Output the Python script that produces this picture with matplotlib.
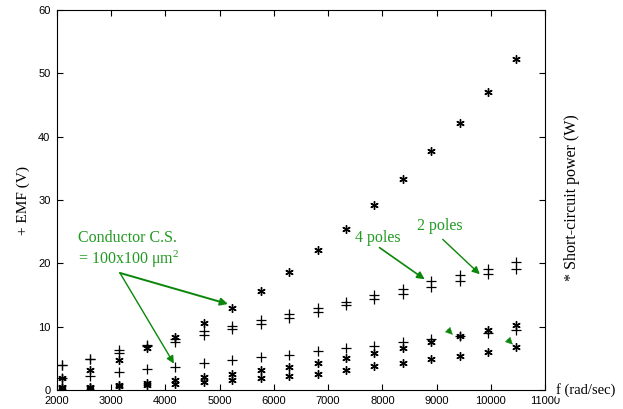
import numpy as np
import matplotlib
matplotlib.use("Agg")
import matplotlib.pyplot as plt

# frequency points (rad/sec), 20000..100000 rpm
f = [2094, 2618, 3142, 3665, 4189, 4712, 5236, 5760, 6283,
     6807, 7330, 7854, 8378, 8901, 9425, 9948, 10472]

# EMF (V), "+" markers
emf_a = [4.0, 5.0, 6.3, 7.2, 8.1, 9.3, 10.1, 11.1, 12.1,
         13.0, 13.9, 15.1, 15.9, 17.2, 18.2, 19.1, 20.2]
emf_b = [3.9, 4.9, 5.8, 6.9, 7.6, 8.7, 9.6, 10.5, 11.4,
         12.3, 13.4, 14.4, 15.2, 16.3, 17.2, 18.4, 19.2]
emf_c = [1.85, 2.3, 2.8, 3.3, 3.7, 4.3, 4.8, 5.2, 5.6,
         6.2, 6.6, 7.0, 7.6, 8.1, 8.6, 9.05, 9.55]

# short-circuit power (W), "*" markers
pow_a = [2.0, 3.25, 4.7, 6.6, 8.4, 10.6, 13.0, 15.7, 18.7,
         22.2, 25.5, 29.2, 33.4, 37.7, 42.1, 47.0, 52.3]
pow_b = [0.45, 0.55, 0.8, 1.1, 1.6, 2.1, 2.6, 3.15, 3.7,
         4.35, 5.1, 5.8, 6.6, 7.6, 8.5, 9.55, 10.3]
pow_c = [0.3, 0.4, 0.6, 0.85, 0.9, 1.3, 1.6, 1.95, 2.3,
         2.6, 3.25, 3.8, 4.3, 4.9, 5.4, 6.0, 6.75]

green_txt = '#229a22'
green_arr = '#0a870a'
serif = 'Liberation Serif'

fig = plt.figure(figsize=(6.23, 4.09), dpi=100)
ax = fig.add_axes([0.091, 0.046, 0.784, 0.9296])

star = (6, 2, 0)
for s in [emf_a, emf_b, emf_c]:
    ax.plot(f, s, linestyle='none', marker='+', color='black',
            markersize=7, markeredgewidth=0.9)
for s in [pow_a, pow_b, pow_c]:
    ax.plot(f, s, linestyle='none', marker=star, color='black',
            markersize=6, markeredgewidth=1.0)

ax.set_xlim(2000, 11000)
ax.set_ylim(0, 60)
ax.set_xticks(np.arange(2000, 11001, 1000))
ax.set_yticks(np.arange(0, 61, 10))
ax.tick_params(direction='in', top=True, right=True, length=4,
               width=0.8, labelsize=8)
ax.tick_params(axis='x', pad=4)
ax.tick_params(axis='y', pad=4.5)
for lab in ax.get_xticklabels() + ax.get_yticklabels():
    lab.set_family('Liberation Sans')
for sp in ax.spines.values():
    sp.set_linewidth(0.8)

ax.set_ylabel('+ EMF (V)', family=serif, fontsize=11, labelpad=6)
fig.text(0.918, 0.517, '* Short-circuit power (W)', rotation=90,
         family=serif, fontsize=11.5, ha='center', va='center')
fig.text(0.893, 0.046, 'f (rad/sec)', family=serif, fontsize=10.5,
         ha='left', va='center',
         bbox=dict(facecolor='white', edgecolor='none', pad=0.3))

# annotations
ax.text(2390, 24.0, 'Conductor C.S.', family=serif, fontsize=11.5,
        color=green_txt, va='center')
ax.text(2390, 20.6, r'= 100x100 $\mathregular{\mu m^2}$', family=serif,
        fontsize=11.5, color=green_txt, va='center')
ax.annotate('', xy=(5155, 13.6), xytext=(3166, 18.5),
            arrowprops=dict(arrowstyle='-|>', color=green_arr, lw=1.4,
                            mutation_scale=11, shrinkA=0, shrinkB=0))
ax.annotate('', xy=(4160, 4.2), xytext=(3166, 18.5),
            arrowprops=dict(arrowstyle='-|>', color=green_arr, lw=1.0,
                            mutation_scale=11, shrinkA=0, shrinkB=0))

ax.text(7920, 24.0, '4 poles', family=serif, fontsize=11.5,
        color=green_txt, ha='center', va='center')
ax.annotate('', xy=(8780, 17.5), xytext=(7948, 22.5),
            arrowprops=dict(arrowstyle='-|>', color=green_arr, lw=1.2,
                            mutation_scale=11, shrinkA=0, shrinkB=0))
ax.text(9057, 25.9, '2 poles', family=serif, fontsize=11.5,
        color=green_txt, ha='center', va='center')
ax.annotate('', xy=(9796, 18.3), xytext=(9114, 23.8),
            arrowprops=dict(arrowstyle='-|>', color=green_arr, lw=1.0,
                            mutation_scale=11, shrinkA=0, shrinkB=0))

# small arrow heads near lower power points
ax.annotate('', xy=(9298, 8.75), xytext=(9200, 9.6),
            arrowprops=dict(arrowstyle='-|>', color=green_arr, lw=0.3,
                            mutation_scale=12, shrinkA=0, shrinkB=0))
ax.annotate('', xy=(10404, 7.2), xytext=(10306, 8.05),
            arrowprops=dict(arrowstyle='-|>', color=green_arr, lw=0.3,
                            mutation_scale=12, shrinkA=0, shrinkB=0))

fig.savefig('out.png', dpi=100)
